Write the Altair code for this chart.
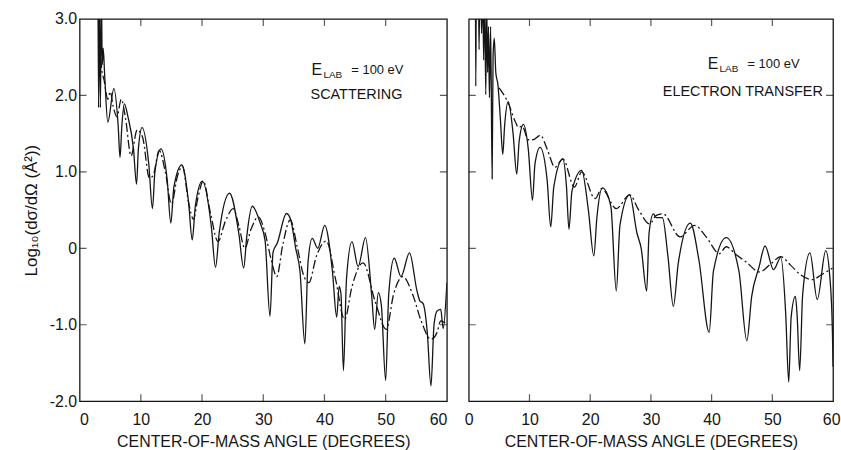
import altair as alt
import pandas as pd

FONT = "Liberation Sans"
INK = "#151515"

# ---------------- Left panel: SCATTERING ----------------
ls_angle = [3.0, 3.1, 3.2, 3.4, 3.55, 3.7, 3.85, 4.1, 4.6, 5.6, 6.3, 6.6, 6.9, 7.3, 7.9, 8.8, 9.3, 9.6,
            10.2, 11.3, 11.9, 12.3, 13.3, 14.3, 14.9, 15.4, 16.7, 17.8, 18.4, 18.9, 20.05, 21.5, 22.2,
            22.8, 24.5, 26.0, 26.8, 27.3, 28.2, 29.5, 30.3, 31.1, 31.6, 32.3, 33.8, 34.5, 35.3, 36.0,
            36.8, 37.3, 38.0, 38.9, 40.05, 41.3, 42.0, 42.4, 42.7, 43.1, 43.6, 44.5, 45.5, 46.7, 47.7,
            48.2, 48.8, 49.3, 50.0, 50.5, 51.4, 52.5, 53.9, 55.1, 55.6, 56.1, 56.8, 57.4, 57.9, 58.4,
            59.0, 59.4, 60.0]
ls_logsig = [3.4, 1.84, 3.4, 1.84, 3.4, 2.4, 2.62, 2.25, 1.65, 2.09, 1.6, 1.19, 1.6, 1.89, 1.72, 1.3, 0.84,
             1.3, 1.58, 1.1, 0.52, 1.0, 1.30, 0.9, 0.33, 0.8, 1.09, 0.6, 0.11, 0.55, 0.88, 0.3, -0.25,
             0.2, 0.72, 0.2, -0.26, 0.15, 0.55, 0.33, 0.1, -0.89, -0.05, 0.07, 0.455, 0.37, 0.0, -0.3,
             -1.25, -0.2, 0.13, 0.0, 0.30, -0.3, -0.9, -0.5, -0.6, -1.6, -0.4, 0.087, -0.24, 0.14, -0.6,
             -1.06, -0.58, -0.75, -1.73, -0.6, -0.13, -0.37, -0.06, -0.55, -0.69, -0.72, -1.1, -1.80, -1.0,
             -0.82, -0.8, -1.05, -0.45]

ld_angle = [3.3, 3.6, 4.0, 4.6, 5.0, 5.5, 6.1, 6.8, 7.5, 8.4, 9.4, 10.3, 11.4, 12.0, 13.0, 14.0, 15.0,
            16.0, 16.8, 17.8, 18.6, 19.3, 20.2, 21.4, 22.6, 23.8, 25.1, 26.0, 27.0, 28.0, 29.2, 30.3,
            31.3, 32.2, 33.2, 34.4, 35.6, 36.5, 37.45, 38.7, 40.3, 41.8, 43.3, 44.5, 46.3, 48.3, 50.1,
            51.3, 52.8, 54.4, 55.8, 57.4, 58.4, 59.0, 60.0]
ld_logsig = [2.7, 2.35, 2.2, 1.95, 2.05, 1.85, 1.72, 1.95, 1.7, 1.21, 1.55, 1.45, 0.92, 0.95, 1.28, 1.0,
             0.58, 0.95, 1.07, 0.6, 0.38, 0.65, 0.88, 0.45, 0.09, 0.35, 0.52, 0.3, 0.0, 0.25, 0.41, 0.2,
             -0.15, -0.37, 0.05, 0.37, 0.0, -0.33, -0.45, -0.1, 0.095, -0.4, -0.93, -0.5, -0.19, -0.7,
             -1.06, -0.6, -0.37, -0.6, -0.95, -1.19, -1.1, -0.95, -1.0]

# ---------------- Right panel: ELECTRON TRANSFER ----------------
rs_angle = [1.1, 1.15, 1.25, 1.6, 1.7, 1.8, 2.0, 2.1, 2.3, 2.45, 2.6, 2.8, 2.95, 3.1, 3.25, 3.4, 3.6,
            3.85, 4.0, 4.2, 4.45, 4.8, 5.2, 5.6, 5.9, 6.5, 7.3, 7.9, 8.3, 9.0, 9.8, 10.5, 10.9, 11.75,
            12.9, 13.5, 14.0, 15.5, 16.1, 16.5, 17.0, 18.6, 19.7, 20.6, 21.1, 22.0, 23.4, 24.3, 24.9,
            26.5, 27.7, 28.4, 29.3, 29.7, 30.4, 30.9, 31.9, 32.8, 33.7, 34.5, 36.5, 37.9, 39.6, 40.3,
            42.4, 44.5, 45.8, 46.6, 47.8, 48.8, 50.2, 51.4, 52.2, 52.7, 53.1, 53.8, 54.1, 54.5, 55.0,
            56.2, 57.4, 58.8, 59.5, 59.9, 60.0]
rs_logsig = [3.4, 2.12, 3.4, 3.4, 2.6, 3.4, 3.4, 2.81, 3.4, 2.46, 3.4, 2.01, 3.2, 2.3, 2.9, 1.97, 2.9,
             0.91, 2.5, 2.75, 2.3, 2.14, 1.7, 1.23, 1.6, 1.92, 1.5, 0.97, 1.4, 1.62, 1.3, 0.63, 1.1, 1.32,
             0.9, 0.28, 0.8, 1.17, 0.8, 0.25, 0.75, 1.02, 0.5, -0.10, 0.4, 0.79, 0.55, -0.56, 0.3,
             0.70, 0.2, 0.0, -0.56, 0.2, 0.45, 0.40, 0.40, -0.1, -0.76, -0.2, 0.33, -0.15, -1.1, -0.3,
             0.14, -0.3, -1.21, -0.63, -0.25, 0.03, -0.28, -0.12, -0.85, -1.75, -0.9, -0.63, -0.9, -1.6,
             -0.6, -0.06, -0.67, -0.03, -0.4, -1.1, -1.55]

rd_angle = [5.0, 6.5, 7.65, 8.2, 8.8, 9.8, 10.6, 11.8, 12.9, 14.2, 15.5, 17.4, 18.6, 20.8, 21.9, 24.3,
            26.5, 28.0, 29.8, 30.9, 32.0, 34.8, 37.2, 39.1, 41.3, 42.4, 44.0, 45.7, 47.9, 49.8, 51.4,
            53.0, 54.7, 56.6, 58.0, 59.9]
rd_logsig = [2.1, 1.9, 1.66, 1.58, 1.6, 1.42, 1.42, 1.48, 1.3, 1.06, 1.17, 0.80, 1.0, 0.65, 0.78, 0.52,
             0.70, 0.5, 0.32, 0.43, 0.45, 0.15, 0.30, 0.15, -0.07, 0.02, -0.08, -0.18, -0.31, -0.2,
             -0.11, -0.22, -0.35, -0.41, -0.35, -0.26]

x_domain = [0, 60]
y_domain = [-2, 3]
x_ticks = [0, 10, 20, 30, 40, 50, 60]
y_ticks = [-2, -1, 0, 1, 2, 3]
x_title = "CENTER-OF-MASS ANGLE (DEGREES)"
y_title = "Log\u2081\u2080(d\u03c3/d\u03a9 (\u00c5\u00b2))"

X_SCALE = alt.Scale(domain=x_domain, nice=False, zero=False)
Y_SCALE = alt.Scale(domain=y_domain, nice=False, zero=False)

# inner tick positions (inward ticks on all four sides of each frame)
inner_x = [v for v in x_ticks if x_domain[0] < v < x_domain[1]]
inner_y = [v for v in y_ticks if y_domain[0] < v < y_domain[1]]
xtick_df = pd.DataFrame({"angle": inner_x * 2,
                         "logsig": [y_domain[0]] * len(inner_x) + [y_domain[1]] * len(inner_x)})
ytick_df = pd.DataFrame({"angle": [x_domain[0]] * len(inner_y) + [x_domain[1]] * len(inner_y),
                         "logsig": inner_y * 2})


def text_layer(label, px, py, size):
    return alt.Chart(pd.DataFrame({"t": [label]})).mark_text(
        align="left", baseline="middle", font=FONT, fontSize=size, color=INK
    ).encode(x=alt.value(px), y=alt.value(py), text="t:N")


def panel(s_x, s_y, d_x, d_y, width, show_y, caption, cap_x, cap_y, e_x, e_y, right_panel):
    solid = pd.DataFrame({"angle": s_x, "logsig": s_y})
    dash = pd.DataFrame({"angle": d_x, "logsig": d_y})

    bottom_kw = dict(orient="bottom", values=x_ticks, format="d", ticks=False, tickSize=0, domain=False,
                     grid=False, labelFont=FONT, labelFontSize=16, labelColor=INK, labelPadding=10,
                     title=x_title, titleFont=FONT, titleFontSize=16, titleFontWeight="normal",
                     titleColor=INK, titlePadding=7)
    if right_panel:
        bottom_kw["labelAlign"] = {"condition": {"test": "datum.value == 60", "value": "right"},
                                   "value": "center"}
        bottom_kw["labelOffset"] = {"condition": {"test": "datum.value == 60", "value": 7},
                                    "value": 0}
    if show_y:
        left_axis = alt.Axis(orient="left", values=y_ticks, ticks=False, tickSize=0, domain=False,
                             grid=False, labelFont=FONT, labelFontSize=16, labelColor=INK, labelPadding=3,
                             labelExpr="datum.value == 0 ? '0' : replace(format(datum.value, '.1f'), '\u2212', '-')",
                             title=y_title, titleFont=FONT, titleFontSize=17, titleFontWeight="normal",
                             titleColor=INK, titlePadding=9)
    else:
        left_axis = None

    solid_line = alt.Chart(solid).mark_line(
        color=INK, strokeWidth=1.3, interpolate="monotone", clip=True
    ).encode(
        x=alt.X("angle:Q", scale=X_SCALE, axis=alt.Axis(**bottom_kw)),
        y=alt.Y("logsig:Q", scale=Y_SCALE, axis=left_axis),
    )
    dash_line = alt.Chart(dash).mark_line(
        color=INK, strokeWidth=1.3, strokeDash=[9, 3, 2, 3], interpolate="monotone", clip=True
    ).encode(x="angle:Q", y="logsig:Q")

    xticks = alt.Chart(xtick_df).mark_tick(
        orient="vertical", size=14, thickness=1.2, color=INK, clip=True
    ).encode(x="angle:Q", y="logsig:Q")
    yticks = alt.Chart(ytick_df).mark_tick(
        orient="horizontal", size=14, thickness=1.2, color=INK, clip=True
    ).encode(x="angle:Q", y="logsig:Q")

    texts = [
        text_layer("E", e_x, e_y, 16),
        text_layer("LAB", e_x + 12, e_y + 5, 10),
        text_layer("= 100 eV", e_x + 40, e_y, 13),
        text_layer(caption, cap_x, cap_y, 14.5),
    ]
    return alt.layer(solid_line, dash_line, xticks, yticks, *texts).properties(width=width, height=384)


left = panel(ls_angle, ls_logsig, ld_angle, ld_logsig, 369, True,
             "SCATTERING", 232, 76, 233, 51, False)
right = panel(rs_angle, rs_logsig, rd_angle, rd_logsig, 366, False,
              "ELECTRON TRANSFER", 195, 73, 240, 45, True)

chart = alt.hconcat(left, right, spacing=22, bounds="flush").properties(
    padding={"left": 21, "top": 9, "right": 0, "bottom": 0},
    background="white",
).configure_view(stroke=INK, strokeWidth=1.3)

chart.save("out.html", embed_options={"renderer": "svg", "actions": False})
